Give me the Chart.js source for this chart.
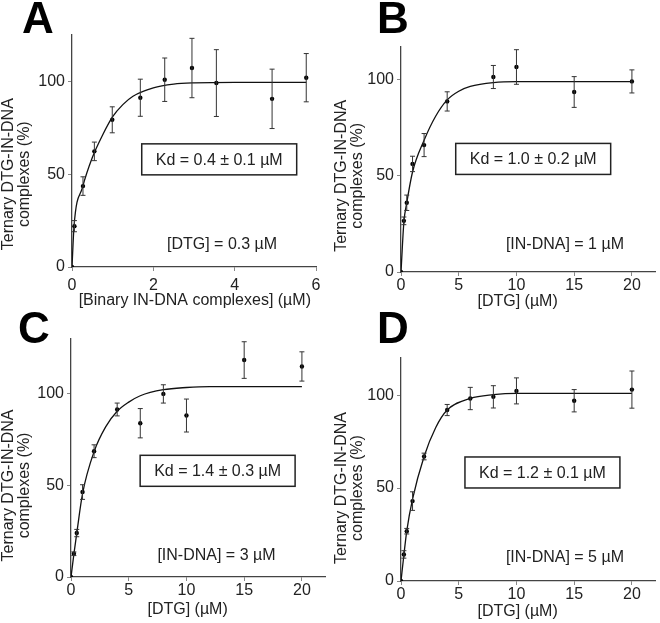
<!DOCTYPE html>
<html>
<head>
<meta charset="utf-8">
<script src="https://cdn.jsdelivr.net/npm/chart.js@4"></script>
<style>
  body { margin: 0; background: #fff; }
  #wrap { position: relative; width: 660px; height: 623px; }
  .panel { position: absolute; }
</style>
</head>
<body>
<div id="wrap">
  <div class="panel" style="left:0;top:0;width:330px;height:310px"><canvas id="cA"></canvas></div>
  <div class="panel" style="left:330px;top:0;width:330px;height:310px"><canvas id="cB"></canvas></div>
  <div class="panel" style="left:0;top:310px;width:330px;height:313px"><canvas id="cC"></canvas></div>
  <div class="panel" style="left:330px;top:310px;width:330px;height:313px"><canvas id="cD"></canvas></div>
</div>
<script>
// panel A: binary IN-DNA titration
const xA = [0, 0.06, 0.27, 0.55, 0.99, 1.68, 2.28, 2.95, 3.55, 4.92, 5.76];
const yA = [0, 22, 43.6, 62.3, 79.3, 91.2, 100.9, 107.2, 99.1, 90.6, 102];
const errA = [0, 3, 5, 5, 7, 10, 11.7, 16, 18, 16, 13];
const fitXA = [0, 0.05, 0.26, 0.5, 0.75, 1, 1.25, 1.5, 2, 2.5, 3, 4, 5.76];
const fitYA = [0, 22, 43, 59, 71, 81, 87.5, 92, 96.5, 98.5, 99.2, 99.5, 99.5];

// panel B: DTG titration, [IN-DNA] = 1
const xB = [0, 0.25, 0.5, 1, 2, 4, 8, 10, 15, 20];
const yB = [0, 26.6, 36, 56.2, 66, 88.7, 101.4, 106.6, 93.6, 99.1];
const errB = [0, 2, 4, 4, 6, 5, 6, 9, 8, 6];
const fitXB = [0, 0.25, 0.5, 1, 2, 3, 4, 5, 6, 8, 10, 15, 20];
const fitYB = [0, 26, 36, 52, 68.5, 81, 89.5, 94, 96.5, 98.5, 99, 99, 99];

// panel C: [IN-DNA] = 3
const xC = [0, 0.25, 0.5, 1, 2, 4, 6, 8, 10, 15, 20];
const yC = [0, 12.7, 24, 46.4, 68.7, 91.5, 84, 100, 88.2, 118.5, 115];
const errC = [0, 1, 2, 4, 3.5, 3.5, 8, 5, 9, 10, 8];
const fitXC = [0, 0.25, 0.5, 1, 2, 3, 4, 5, 6, 8, 10, 12, 15, 20];
const fitYC = [0, 12.5, 24, 45.5, 68.5, 82, 90.5, 95.5, 99, 102.3, 103.5, 104, 104, 104];

// panel D: [IN-DNA] = 5
const xD = [0, 0.25, 0.5, 1, 2, 4, 6, 8, 10, 15, 20];
const yD = [0, 14.3, 26.8, 43, 67, 92, 98.2, 99.1, 102.3, 97, 103];
const errD = [0, 2, 1.5, 5, 1.8, 3, 6, 6, 7, 6, 10];
const fitXD = [0, 0.25, 0.5, 1, 2, 3, 4, 6, 8, 10, 15, 20];
const fitYD = [0, 14, 27, 44, 67, 82.5, 92, 98.3, 100.3, 101, 101, 101];

const xTicksA = [0, 2, 4, 6];
const xTicksDTG = [0, 5, 10, 15, 20];
const yTicks = [0, 50, 100];

const FONT = "'Liberation Sans', Arial, sans-serif";
const INK = '#222';

function pts(xs, ys) {
  return xs.map((x, i) => ({ x: x, y: ys[i] }));
}

// error bars, drawn through the scales
const errorBars = {
  id: 'errorBars',
  afterDatasetsDraw(chart) {
    const { ctx, scales: { x, y } } = chart;
    chart.data.datasets.forEach(ds => {
      if (!ds.errors) return;
      ctx.save();
      ctx.strokeStyle = '#333';
      ctx.lineWidth = 1;
      ds.data.forEach((p, i) => {
        const e = ds.errors[i];
        if (!e) return;
        const px = x.getPixelForValue(p.x);
        const top = y.getPixelForValue(p.y + e);
        const bot = y.getPixelForValue(p.y - e);
        ctx.beginPath();
        ctx.moveTo(px, top); ctx.lineTo(px, bot);
        ctx.moveTo(px - 2.5, top); ctx.lineTo(px + 2.5, top);
        ctx.moveTo(px - 2.5, bot); ctx.lineTo(px + 2.5, bot);
        ctx.stroke();
      });
      ctx.restore();
    });
  }
};

// panel letter, titles, Kd box and condition note
const panelText = {
  id: 'panelText',
  afterDraw(chart, args, o) {
    const { ctx, scales: { x, y } } = chart;
    ctx.save();
    ctx.fillStyle = '#000';
    ctx.font = 'bold 44px ' + FONT;
    ctx.textAlign = 'left';
    ctx.textBaseline = 'alphabetic';
    ctx.fillText(o.letter, o.letterX, 33);

    ctx.fillStyle = INK;
    ctx.font = '16px ' + FONT;
    ctx.textAlign = 'center';
    ctx.textBaseline = 'middle';
    ctx.fillText(o.xTitle, x.getPixelForValue(o.xTitleAt), o.xTitleY);

    const cy = y.getPixelForValue(50);
    o.yTitle.forEach((line, i) => {
      ctx.save();
      ctx.translate(o.yTitleX[i], cy);
      ctx.rotate(-Math.PI / 2);
      ctx.fillText(line, 0, 0);
      ctx.restore();
    });

    const bx = x.getPixelForValue(o.boxAt[0]);
    const by = y.getPixelForValue(o.boxAt[1]);
    const w = ctx.measureText(o.box).width + 28;
    ctx.strokeStyle = '#222';
    ctx.lineWidth = 1.5;
    ctx.strokeRect(bx - w / 2, by - 15.5, w, 31);
    ctx.fillText(o.box, bx, by + 1);

    ctx.fillText(o.note, x.getPixelForValue(o.noteAt[0]), y.getPixelForValue(o.noteAt[1]));
    ctx.restore();
  }
};

function makePanel(id, cfg) {
  const canvas = document.getElementById(id);
  canvas.width = 330;
  canvas.height = cfg.h;
  new Chart(canvas, {
    type: 'scatter',
    data: {
      datasets: [
        {
          data: pts(cfg.fitX, cfg.fitY),
          showLine: true,
          borderColor: '#111',
          borderWidth: 1.3,
          pointRadius: 0,
          cubicInterpolationMode: 'monotone'
        },
        {
          data: pts(cfg.xs, cfg.ys),
          errors: cfg.errs,
          pointRadius: 2.2,
          pointBackgroundColor: '#000',
          pointBorderWidth: 0
        }
      ]
    },
    options: {
      responsive: false,
      animation: false,
      layout: { padding: { left: 0, top: cfg.top, right: 330 - cfg.right, bottom: 0 } },
      plugins: {
        legend: { display: false },
        tooltip: { enabled: false },
        panelText: cfg.text
      },
      scales: {
        x: {
          type: 'linear',
          min: 0,
          max: cfg.xMax,
          afterFit: s => { s.height = cfg.h - cfg.bottom; },
          afterBuildTicks: s => { s.ticks = cfg.xTicks.map(v => ({ value: v })); },
          border: { display: true, color: '#444', width: 1.3 },
          grid: { drawOnChartArea: false, drawTicks: true, tickLength: 4, color: '#888' },
          ticks: { padding: cfg.xPad, color: INK, font: { family: FONT, size: 16 } }
        },
        y: {
          min: 0,
          max: cfg.yMax,
          afterFit: s => { s.width = cfg.left; },
          afterBuildTicks: s => { s.ticks = yTicks.map(v => ({ value: v })); },
          border: { display: true, color: '#444', width: 1.3 },
          grid: { drawOnChartArea: false, drawTicks: true, tickLength: 4, color: '#888' },
          ticks: { padding: 3, color: INK, font: { family: FONT, size: 16 } }
        }
      }
    },
    plugins: [errorBars, panelText]
  });
}

const yTitle = ['Ternary DTG-IN-DNA', 'complexes (%)'];

makePanel('cA', {
  h: 310, left: 72, right: 316, top: 35, bottom: 267, xPad: 5,
  xMax: 6, yMax: 125, xTicks: xTicksA,
  xs: xA, ys: yA, errs: errA, fitX: fitXA, fitY: fitYA,
  text: {
    letter: 'A', letterX: 22,
    xTitle: '[Binary IN-DNA complexes] (\u00b5M)', xTitleAt: 3.02, xTitleY: 301,
    yTitle: yTitle, yTitleX: [9, 25],
    box: 'Kd = 0.4 \u00b1 0.1 \u00b5M', boxAt: [3.62, 58],
    note: '[DTG] = 0.3 \u00b5M', noteAt: [3.69, 12]
  }
});

makePanel('cB', {
  h: 310, left: 71, right: 325, top: 47, bottom: 272, xPad: 0,
  xMax: 22, yMax: 117, xTicks: xTicksDTG,
  xs: xB, ys: yB, errs: errB, fitX: fitXB, fitY: fitYB,
  text: {
    letter: 'B', letterX: 47,
    xTitle: '[DTG] (\u00b5M)', xTitleAt: 10.1, xTitleY: 302,
    yTitle: yTitle, yTitleX: [12, 28],
    box: 'Kd = 1.0 \u00b1 0.2 \u00b5M', boxAt: [11.45, 58.8],
    note: '[IN-DNA] = 1 \u00b5M', noteAt: [14.2, 14]
  }
});

makePanel('cC', {
  h: 313, left: 71, right: 325, top: 29, bottom: 267, xPad: 0,
  xMax: 22, yMax: 130, xTicks: xTicksDTG,
  xs: xC, ys: yC, errs: errC, fitX: fitXC, fitY: fitYC,
  text: {
    letter: 'C', letterX: 18,
    xTitle: '[DTG] (\u00b5M)', xTitleAt: 10.1, xTitleY: 300,
    yTitle: yTitle, yTitleX: [9, 25],
    box: 'Kd = 1.4 \u00b1 0.3 \u00b5M', boxAt: [12.7, 58],
    note: '[IN-DNA] = 3 \u00b5M', noteAt: [12.6, 11.8]
  }
});

makePanel('cD', {
  h: 313, left: 71, right: 325, top: 48, bottom: 271, xPad: 0,
  xMax: 22, yMax: 120, xTicks: xTicksDTG,
  xs: xD, ys: yD, errs: errD, fitX: fitXD, fitY: fitYD,
  text: {
    letter: 'D', letterX: 47,
    xTitle: '[DTG] (\u00b5M)', xTitleAt: 10.1, xTitleY: 302,
    yTitle: yTitle, yTitleX: [12, 28],
    box: 'Kd = 1.2 \u00b1 0.1 \u00b5M', boxAt: [12.25, 58.4],
    note: '[IN-DNA] = 5 \u00b5M', noteAt: [14.2, 12.8]
  }
});
</script>
</body>
</html>
